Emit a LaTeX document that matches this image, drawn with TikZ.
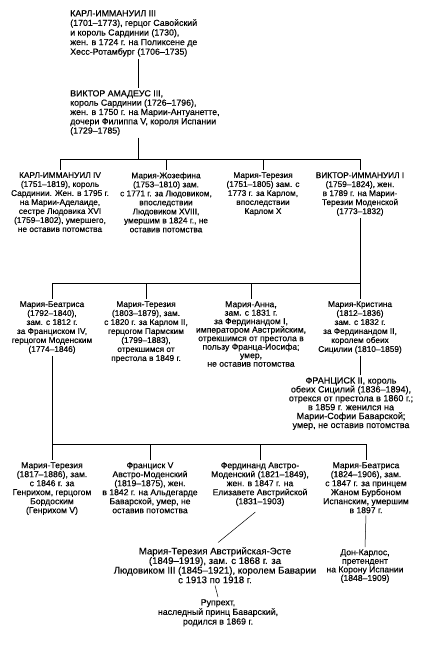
\documentclass[tikz,border=0pt]{standalone}
\usepackage{fontspec}
\setmainfont[FakeBold=0.25]{Liberation Sans}
\usepackage{tikz}

\begin{document}
\begin{tikzpicture}[x=1pt, y=-1pt, line width=0.5pt,
    person/.style={anchor=north, align=center, inner sep=2pt, font=\fontsize{8.3}{9}\selectfont},
    ruler/.style={anchor=north west, align=left, inner sep=2pt, font=\fontsize{8.8}{9.6}\selectfont}]
    \useasboundingbox (0,0) rectangle (433,650);

    \node[ruler](k3) at (68,8) {КАРЛ-ИММАНУИЛ III\\(1701–1773), герцог Савойский\\и король Сардинии (1730),\\жен. в 1724 г. на Поликсене де\\Хесс-Ротамбург (1706–1735)};
    \node[ruler, font=\fontsize{8.8}{9.3}\selectfont](va) at (68,88) {ВИКТОР АМАДЕУС III,\\король Сардинии (1726–1796),\\жен. в 1750 г. на Марии-Антуанетте,\\дочери Филиппа V, короля Испании\\(1729–1785)};

    \node[person](ke4) at (60,170) {КАРЛ-ИММАНУИЛ IV\\(1751–1819), король\\Сардинии. Жен. в 1795 г.\\на Марии-Аделаиде,\\сестре Людовика XVI\\(1759–1802), умершего,\\не оставив потомства};
    \node[person](mj) at (166,170) {Мария-Жозефина\\(1753–1810) зам.\\с 1771 г. за Людовиком,\\впоследствии\\Людовиком XVIII,\\умершим в 1824 г., не\\оставив потомства};
    \node[person](mt) at (263,170) {Мария-Терезия\\(1751–1805) зам. с\\1773 г. за Карлом,\\впоследствии\\Карлом X};
    \node[person](ve1) at (360,170) {ВИКТОР-ИММАНУИЛ I\\(1759–1824), жен.\\в 1789 г. на Марии-\\Терезии Моденской\\(1773–1832)};

    \node[person](mb) at (52,299) {Мария-Беатриса\\(1792–1840),\\зам. с 1812 г.\\за Франциском IV,\\герцогом Моденским\\(1774–1846)};
    \node[person](mt2) at (146,299) {Мария-Терезия\\(1803–1879), зам.\\с 1820 г. за Карлом II,\\герцогом Пармским\\(1799–1883),\\отрекшимся от\\престола в 1849 г.};
    \node[person, font=\fontsize{8.6}{8.5}\selectfont](ma) at (251,299) {Мария-Анна,\\зам. с 1831 г.\\за Фердинандом I,\\императором Австрийским,\\отрекшимся от престола в\\пользу Франца-Иосифа;\\умер,\\не оставив потомства};
    \node[person](mc) at (360,299) {Мария-Кристина\\(1812–1836)\\зам. с 1832 г.\\за Фердинандом II,\\королем обеих\\Сицилии (1810–1859)};

    \node[person, font=\fontsize{9}{8.9}\selectfont](f2) at (351,375) {ФРАНЦИСК II, король\\обеих Сицилий (1836–1894),\\отрекся от престола в 1860 г.;\\в 1859 г. женился на\\Марии-Софии Баварской;\\умер, не оставив потомства};

    \node[person, font=\fontsize{8.6}{9}\selectfont](mt3) at (52,460) {Мария-Терезия\\(1817–1886), зам.\\с 1846 г. за\\Генрихом, герцогом\\Бордоским\\(Генрихом V)};
    \node[person, font=\fontsize{8.6}{9}\selectfont](fv) at (150,460) {Франциск V\\Австро-Моденский\\(1819–1875), жен.\\в 1842 г. на Альдегарде\\Баварской, умер, не\\оставив потомства};
    \node[person, font=\fontsize{8.6}{9}\selectfont](fd) at (260,460) {Фердинанд Австро-\\Моденский (1821–1849),\\жен. в 1847 г. на\\Елизавете Австрийской\\(1831–1903)};
    \node[person, font=\fontsize{8.6}{9}\selectfont](mb4) at (366,460) {Мария-Беатриса\\(1824–1906), зам.\\с 1847 г. за принцем\\Жаном Бурбоном\\Испанским, умершим\\в 1897 г.};

    \node[person, font=\fontsize{9.6}{9.6}\selectfont](mte) at (215,545) {Мария-Терезия Австрийская-Эсте\\(1849–1919), зам. с 1868 г. за\\Людовиком III (1845–1921), королем Баварии\\с 1913 по 1918 г.};
    \node[person, font=\fontsize{8.8}{9.6}\selectfont](rp) at (218,597) {Рупрехт,\\наследный принц Баварский,\\родился в 1869 г.};
    \node[person, font=\fontsize{8.6}{8.6}\selectfont](dc) at (365,547) {Дон-Карлос,\\претендент\\на Корону Испании\\(1848–1909)};

    \coordinate (b1) at (138,159);
    \coordinate (b2) at (360,283);
    \coordinate (b3) at (52,444);

    \draw (k3.south -| b1) -- (va.north -| b1);
    \draw (va.south -| b1) -- (b1);
    \draw (ke4.north) |- (ve1.north |- b1) -- (ve1.north);
    \draw (mj.north) -- (mj.north |- b1);
    \draw (mt.north) -- (mt.north |- b1);
    \draw (ve1.south) -- (b2);
    \draw (mb.north) |- (b2) -- (mc.north);
    \draw (mt2.north) -- (mt2.north |- b2);
    \draw (ma.north) -- (ma.north |- b2);
    \draw (mc.south) -- (mc.south |- f2.north);
    \draw (mb.south) -- (mt3.north);
    \draw (b3) -| (mb4.north);
    \draw (fv.north) -- (fv.north |- b3);
    \draw (fd.north) -- (fd.north |- b3);
    \draw[shorten <=6pt, shorten >=4pt] (fd.south) -- (mte.north);
    \draw (mte.south) -- (rp.north);
    \draw (mb4.south) -- (dc.north);
\end{tikzpicture}
\end{document}
